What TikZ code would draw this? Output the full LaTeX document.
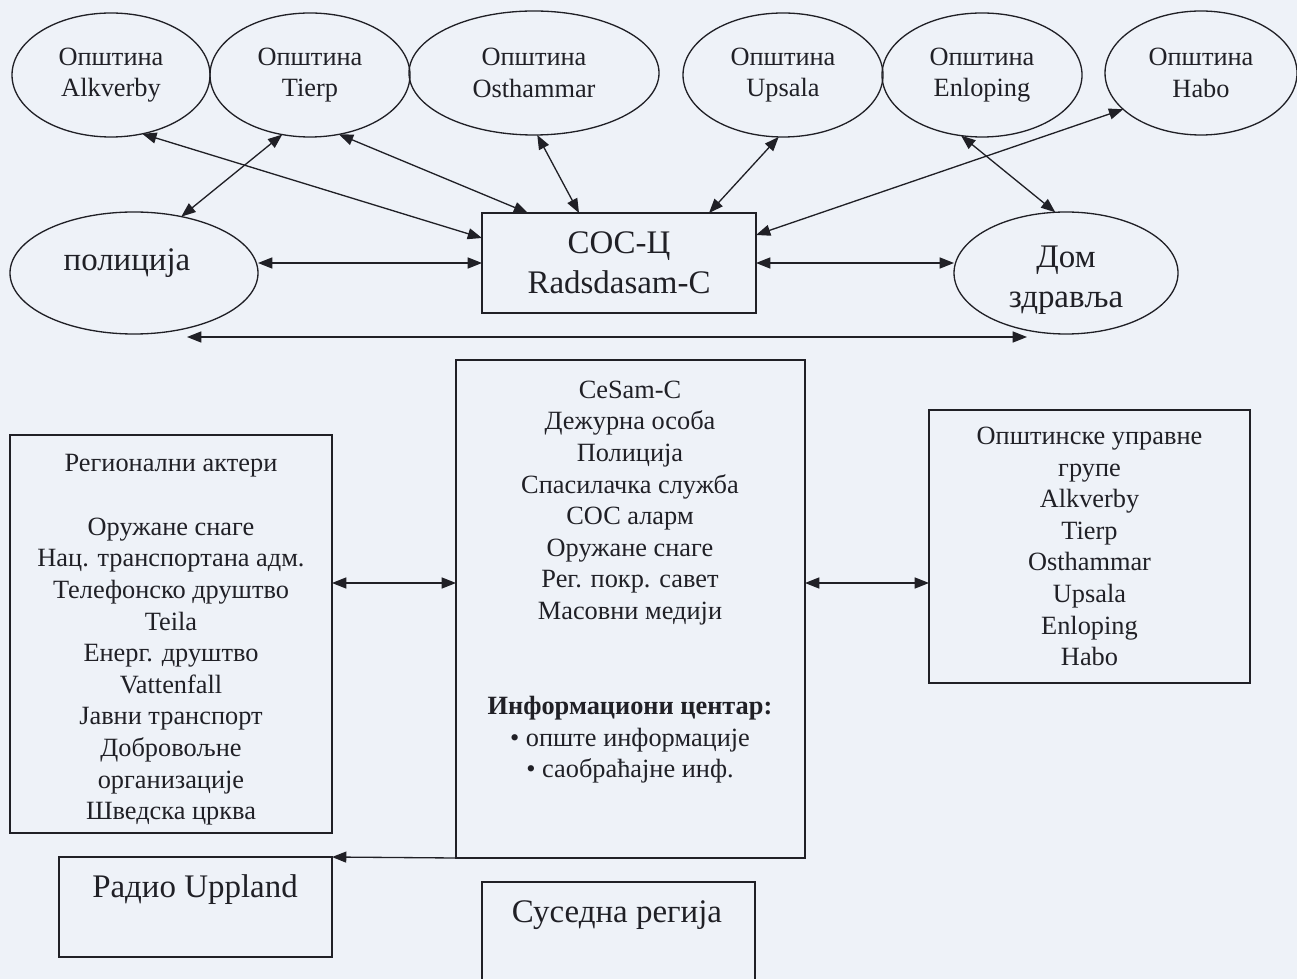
\documentclass[tikz,border=0pt]{standalone}
\usepackage{fontspec}
\setmainfont{Liberation Serif}
\usetikzlibrary{shapes.geometric,arrows.meta}
\definecolor{paper}{RGB}{238,242,248}
\definecolor{ink}{RGB}{32,32,38}
\newcommand{\pxu}{0.016cm}

\begin{document}
\begin{tikzpicture}[x=0.016cm, y=-0.016cm,
  >={Triangle[length=6.5pt,width=5pt]},
  txt/.style={text=ink, align=center, font=\fontsize{12}{14.4}\selectfont},
  bigtxt/.style={text=ink, align=center, font=\fontsize{15}{18}\selectfont},
  oval/.style={draw=ink, ellipse, line width=0.6pt, inner sep=0pt, outer sep=0pt},
  muni/.style={oval, txt, minimum width=200*\pxu, minimum height=124*\pxu},
  box/.style={draw=ink, rectangle, line width=0.6pt, inner sep=0pt, outer sep=0pt},
  link/.style={<->, draw=ink, line width=0.6pt}]

  % === PAGE ===
  \fill[paper] (0,0) rectangle (1297,979);
  \useasboundingbox (0,0) rectangle (1297,979);

  % === MUNICIPALITIES (top row) ===
  \node[muni, minimum width=198*\pxu] (alk) at (111,75) {Општина\\Alkverby};
  \node[muni] (tie) at (310,75) {Општина\\Tierp};
  \node[muni, minimum width=250*\pxu] (ost) at (534,73) {Општина\\Osthammar};
  \node[muni] (ups) at (783,75) {Општина\\Upsala};
  \node[muni] (enl) at (982,75) {Општина\\Enloping};
  \node[muni, minimum width=192*\pxu] (hab) at (1201,73) {Општина\\Habo};

  % === SECOND ROW ===
  \node[oval, minimum width=248*\pxu, minimum height=122*\pxu] (pol) at (134,273) {};
  \node[bigtxt] (poltxt) at (127,263) {полиција};
  \node[box, bigtxt, minimum width=274*\pxu, minimum height=100*\pxu] (sos) at (619,263) {СОС-Ц\\Radsdasam-C};
  \node[oval, minimum width=224*\pxu, minimum height=122*\pxu] (dom) at (1066,273) {};
  \node[bigtxt] (domtxt) at (1066,280) {Дом\\здравља};

  % === LINKS (top part) ===
  \draw[link] (alk.-62) -- ([shift={(0,-25)}]sos.west);
  \draw[link] (tie.-115) -- (pol.50);
  \draw[link] (tie.-64) -- ([shift={(-91,0)}]sos.north);
  \draw[link] (ost.-87) -- ([shift={(-40,0)}]sos.north);
  \draw[link] (ups.-94) -- ([shift={(90,0)}]sos.north);
  \draw[link] (hab.-155) -- ([shift={(0,-28)}]sos.east);
  \draw[link] (enl.-109) -- (dom.100);
  \draw[link] (pol.east |- sos.west) -- (sos.west);
  \draw[link] (sos.east) -- (dom.west |- sos.east);
  \draw[link] ([shift={(53,3)}]pol.south) -- ([shift={(-39,3)}]dom.south);

  % === LOWER BOXES ===
  \node[box, minimum width=349*\pxu, minimum height=498*\pxu] (cen) at (630.5,609) {};
  \node[txt] (centxt) at (630,582) {CeSam-C\\Дежурна особа\\Полиција\\Спасилачка служба\\СОС аларм\\Оружане снаге\\Рег. покр. савет\\Масовни медији\\[28.8pt]\textbf{Информациони центар:}\\• опште информације\\• саобраћајне инф.};

  \node[box, minimum width=322*\pxu, minimum height=398*\pxu] (reg) at (171,634) {};
  \node[txt] (regtxt) at (171,640) {Регионални актери\\[14.4pt]Оружане снаге\\Нац. транспортана адм.\\Телефонско друштво\\Teila\\Енерг. друштво\\Vattenfall\\Јавни транспорт\\Добровољне\\организације\\Шведска црква};

  \node[box, txt, minimum width=321*\pxu, minimum height=273*\pxu] (mun) at (1089.5,546.5) {Општинске управне\\групе\\Alkverby\\Tierp\\Osthammar\\Upsala\\Enloping\\Habo};

  \node[box, minimum width=273*\pxu, minimum height=100*\pxu] (rad) at (195.5,907) {};
  \node[bigtxt] (radtxt) at (195,890) {Радио Uppland};

  \node[box, minimum width=273*\pxu, minimum height=104*\pxu] (sus) at (618.5,934) {};
  \node[bigtxt] (sustxt) at (617,915) {Суседна регија};

  % === LINKS (lower part) ===
  \coordinate (midrow) at (640,583);
  \draw[link] (reg.east |- midrow) -- (cen.west |- midrow);
  \draw[link] (cen.east |- midrow) -- (mun.west |- midrow);
  \draw[->, draw=ink, line width=0.6pt] (cen.south west) -- (rad.north east);

\end{tikzpicture}
\end{document}
